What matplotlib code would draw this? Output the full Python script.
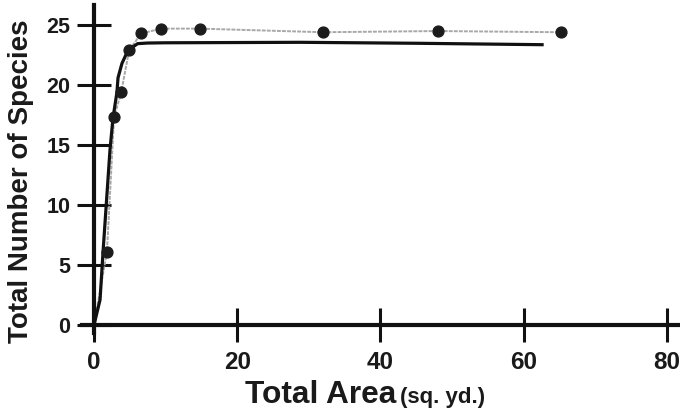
import matplotlib
matplotlib.use("Agg")
import matplotlib.pyplot as plt

plt.rcParams['font.family'] = ['Liberation Sans', 'DejaVu Sans']
plt.rcParams['font.weight'] = 'bold'

# measured points (area in sq. yd., species count)
area_pts = [1.8, 2.8, 3.8, 4.9, 6.6, 9.4, 14.8, 32, 48, 65.2]
species_pts = [6.1, 17.3, 19.4, 22.9, 24.3, 24.7, 24.7, 24.4, 24.5, 24.4]

# hand drawn fitted curve
curve_x = [0, 0.84, 1.26, 1.75, 2.23, 2.65, 3.2, 3.35, 3.9, 4.75, 6.1, 7.5, 9.9, 28.8, 45, 62.8]
curve_y = [0, 2.1, 6.1, 10.4, 14.6, 17.25, 19.4, 20.6, 21.8, 22.9, 23.45, 23.5, 23.52, 23.56, 23.48, 23.36]

x_ticks = [0, 20, 40, 60, 80]
y_ticks = [0, 5, 10, 15, 20, 25]

W, H = 680, 415
fig = plt.figure(figsize=(W / 100, H / 100), dpi=100)
ax = fig.add_axes([82 / W, (H - 333) / H, 598 / W, 328 / H])

ax.set_xlim(-1.68, 81.84)
ax.set_ylim(-0.67, 26.67)

# grey dotted line joining the points, from the origin
ax.plot([0] + area_pts, [0] + species_pts, color='#a8a8a8', lw=1.4,
        linestyle=(0, (2.0, 0.6)), zorder=2)
ax.plot(area_pts, species_pts, 'o', color='#1c1c1c', ms=7.8, zorder=4)
ax.plot(curve_x, curve_y, color='#111111', lw=2.3, solid_capstyle='butt', zorder=3)

for side in ['top', 'right']:
    ax.spines[side].set_visible(False)
ax.spines['left'].set_position(('data', 0))
ax.spines['bottom'].set_position(('data', 0))
for side in ['left', 'bottom']:
    ax.spines[side].set_linewidth(3.0)
    ax.spines[side].set_color('#111111')

ax.set_xticks(x_ticks)
ax.set_yticks(y_ticks)
ax.tick_params(axis='both', direction='inout', length=24, width=2.2, color='#111111')
ax.tick_params(axis='x', labelsize=17.5, pad=7)
ax.tick_params(axis='y', labelsize=15.5, pad=5)
for lab in ax.get_xticklabels() + ax.get_yticklabels():
    lab.set_fontweight('bold')
    lab.set_color('#1a1a1a')

# axis titles
fig.text(21 / W, 1 - 181 / H, 'Total Number of Species', rotation=90,
         ha='center', va='center', fontsize=20, fontweight='bold', color='#1a1a1a')
fig.text(245 / W, 1 - 403 / H, 'Total Area', ha='left', va='baseline',
         fontsize=22.8, fontweight='bold', color='#1a1a1a')
fig.text(400 / W, 1 - 403 / H, '(sq. yd.)', ha='left', va='baseline',
         fontsize=16, fontweight='bold', color='#1a1a1a')

fig.savefig('out.png', dpi=100)
